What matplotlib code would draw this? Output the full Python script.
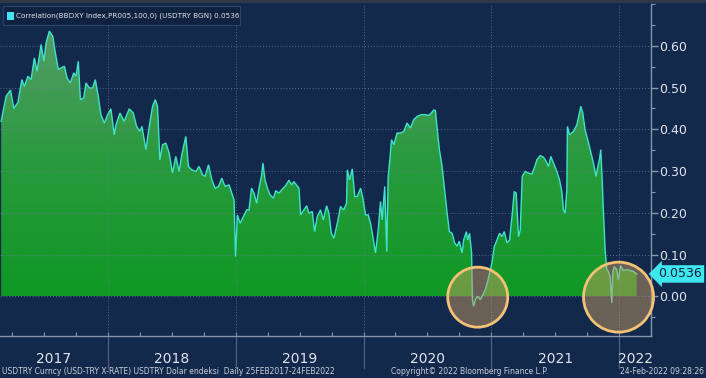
import numpy as np
import matplotlib
matplotlib.use("Agg")
import matplotlib.pyplot as plt
import matplotlib.transforms as mtransforms
from matplotlib import font_manager
from matplotlib.patches import Ellipse, Rectangle
from matplotlib.colors import LinearSegmentedColormap
from matplotlib.ticker import MultipleLocator, FixedLocator

# ---------------- data (decimal years, correlation) ----------------
t = [2017.164, 2017.203, 2017.237, 2017.263, 2017.295, 2017.326, 2017.346, 2017.373, 2017.398, 2017.424,
     2017.445, 2017.477, 2017.498, 2017.516, 2017.541, 2017.568, 2017.586, 2017.612, 2017.633, 2017.659,
     2017.680, 2017.705, 2017.732, 2017.750, 2017.768, 2017.784, 2017.810, 2017.828, 2017.854, 2017.880,
     2017.901, 2017.924, 2017.945, 2017.971, 2017.998, 2018.023, 2018.049,
     2018.063, 2018.094, 2018.127, 2018.166, 2018.198, 2018.224, 2018.250, 2018.266, 2018.297, 2018.323,
     2018.349, 2018.370, 2018.388, 2018.406, 2018.427, 2018.453, 2018.479, 2018.505, 2018.531, 2018.557,
     2018.578, 2018.609, 2018.630, 2018.656, 2018.688, 2018.713, 2018.740, 2018.760, 2018.787, 2018.813,
     2018.838, 2018.865, 2018.891, 2018.916, 2018.948, 2018.969, 2018.987,
     2018.998, 2019.013, 2019.034, 2019.060, 2019.086, 2019.104, 2019.123, 2019.143, 2019.164, 2019.182,
     2019.201, 2019.213, 2019.229, 2019.248, 2019.268, 2019.295, 2019.313, 2019.338, 2019.365, 2019.391,
     2019.416, 2019.438, 2019.455, 2019.474, 2019.495, 2019.508, 2019.534, 2019.555, 2019.573, 2019.599,
     2019.617, 2019.638, 2019.664, 2019.685, 2019.711, 2019.729, 2019.748, 2019.768, 2019.795, 2019.820,
     2019.846, 2019.867,
     2019.873, 2019.891, 2019.912, 2019.932, 2019.951, 2019.977, 2019.995, 2020.016, 2020.037, 2020.055,
     2020.073, 2020.094, 2020.115, 2020.133, 2020.146, 2020.166, 2020.182, 2020.193, 2020.205, 2020.219,
     2020.237, 2020.263, 2020.289, 2020.315, 2020.341, 2020.367, 2020.393, 2020.420, 2020.453, 2020.484,
     2020.510, 2020.531, 2020.549, 2020.563, 2020.576, 2020.594, 2020.615, 2020.635, 2020.654, 2020.672,
     2020.693, 2020.713, 2020.732, 2020.750,
     2020.771, 2020.784, 2020.805, 2020.815, 2020.830, 2020.846, 2020.852, 2020.862, 2020.875, 2020.893,
     2020.914, 2020.935, 2020.953, 2020.971, 2020.987, 2021.005, 2021.023, 2021.045, 2021.065, 2021.084,
     2021.102, 2021.123, 2021.143, 2021.162, 2021.180, 2021.195, 2021.213, 2021.227, 2021.242, 2021.266,
     2021.291, 2021.318, 2021.336, 2021.357, 2021.383, 2021.409, 2021.430, 2021.448, 2021.466, 2021.487,
     2021.513, 2021.534, 2021.552, 2021.565, 2021.578, 2021.591, 2021.596, 2021.612,
     2021.643, 2021.670, 2021.690, 2021.701, 2021.716, 2021.734, 2021.748, 2021.768, 2021.787, 2021.805,
     2021.820, 2021.834, 2021.846, 2021.857, 2021.867, 2021.877, 2021.891, 2021.904, 2021.916, 2021.930,
     2021.943, 2021.951, 2021.963, 2021.982, 2021.994, 2022.013, 2022.034, 2022.060, 2022.086, 2022.112,
     2022.138]

corr = [0.419, 0.479, 0.494, 0.450, 0.464, 0.519, 0.503, 0.527, 0.519, 0.571,
        0.539, 0.603, 0.563, 0.607, 0.635, 0.623, 0.587, 0.543, 0.547, 0.551,
        0.523, 0.511, 0.535, 0.527, 0.563, 0.471, 0.475, 0.511, 0.499, 0.499,
        0.519, 0.479, 0.435, 0.415, 0.435, 0.449, 0.387,
        0.411, 0.439, 0.419, 0.449, 0.439, 0.407, 0.395, 0.407, 0.351, 0.407,
        0.455, 0.471, 0.455, 0.327, 0.363, 0.367, 0.343, 0.295, 0.335, 0.299,
        0.339, 0.383, 0.311, 0.303, 0.299, 0.311, 0.291, 0.287, 0.315, 0.279,
        0.259, 0.263, 0.283, 0.263, 0.267, 0.247, 0.231,
        0.095, 0.195, 0.175, 0.191, 0.207, 0.207, 0.259, 0.247, 0.223, 0.259,
        0.287, 0.319, 0.279, 0.259, 0.243, 0.235, 0.253, 0.247, 0.257, 0.265,
        0.278, 0.267, 0.275, 0.267, 0.259, 0.195, 0.207, 0.217, 0.199, 0.203,
        0.155, 0.191, 0.207, 0.183, 0.217, 0.199, 0.151, 0.139, 0.175, 0.215,
        0.207, 0.223,
        0.303, 0.279, 0.305, 0.239, 0.239, 0.259, 0.235, 0.195, 0.195, 0.175,
        0.143, 0.104, 0.159, 0.227, 0.183, 0.263, 0.107, 0.287, 0.323, 0.375,
        0.363, 0.391, 0.391, 0.395, 0.415, 0.403, 0.423, 0.431, 0.435, 0.435,
        0.433, 0.439, 0.446, 0.445, 0.403, 0.351, 0.311, 0.255, 0.200, 0.155,
        0.151, 0.128, 0.120, 0.132,
        0.104, 0.135, 0.155, 0.135, 0.151, 0.104, -0.008, -0.024, -0.008, 0.000,
        -0.008, 0.004, 0.016, 0.035, 0.056, 0.080, 0.119, 0.135, 0.151, 0.143,
        0.155, 0.128, 0.135, 0.191, 0.251, 0.247, 0.143, 0.159, 0.287, 0.299,
        0.295, 0.293, 0.307, 0.327, 0.337, 0.333, 0.323, 0.311, 0.335, 0.319,
        0.299, 0.279, 0.251, 0.207, 0.199, 0.255, 0.407, 0.387,
        0.395, 0.411, 0.439, 0.455, 0.439, 0.399, 0.383, 0.359, 0.335, 0.311,
        0.287, 0.311, 0.327, 0.351, 0.287, 0.207, 0.111, 0.064, 0.060, 0.047,
        -0.016, 0.059, 0.071, 0.064, 0.040, 0.073, 0.062, 0.064, 0.062, 0.060,
        0.0536]

years = [2017, 2018, 2019, 2020, 2021, 2022]
yticks = [0.00, 0.10, 0.20, 0.30, 0.40, 0.50, 0.60]
legend_label = "Correlation(BBDXY Index,PR005,100,0) (USDTRY BGN) 0.0536"
last_value_label = "0.0536"
highlight_centers = [2020.894, 2021.996]
footer_left = "USDTRY Curncy (USD-TRY X-RATE) USDTRY Dolar endeksi  Daily 25FEB2017-24FEB2022"
footer_mid = "Copyright\u00a9 2022 Bloomberg Finance L.P."
footer_right = "24-Feb-2022 09:28:26"

# ---------------- fonts ----------------
def _has_font(name):
    try:
        font_manager.findfont(font_manager.FontProperties(family=name), fallback_to_default=False)
        return True
    except Exception:
        return False

if _has_font("Liberation Sans Narrow"):
    SMALL_FAMILY, legend_size, footer_size = "Liberation Sans Narrow", 6.8, 6.3
else:
    SMALL_FAMILY, legend_size, footer_size = "DejaVu Sans", 5.2, 5.5

# ---------------- styling ----------------
BG = "#13294b"
GRID = "#687c98"
TXT = "#dfe5ee"
LINE = "#3fe3cc"
CYAN = "#3ee6ef"

W, H = 706, 378
fig = plt.figure(figsize=(W / 100, H / 100), dpi=100, facecolor=BG)
ax_left, ax_right, ax_top, ax_bot = 0, 651, 4, 336
ax = fig.add_axes([ax_left / W, 1 - ax_bot / H, (ax_right - ax_left) / W, (ax_bot - ax_top) / H],
                  facecolor=BG)

x0, x1 = 2017.155, 2022.25
y0, y1 = -0.095, 0.70

t_arr = np.array(t)
c_arr = np.array(corr)

# gradient area fill (positive part)
fill = ax.fill_between(t_arr, np.maximum(c_arr, 0), 0, color="none", lw=0)
cmap = LinearSegmentedColormap.from_list("g", ["#0f9824", "#2a9a3e", "#589e6c"])
grad = np.linspace(0, 1, 256).reshape(-1, 1)
im = ax.imshow(grad, extent=[x0, x1, 0, 0.66], origin="lower", aspect="auto",
               cmap=cmap, zorder=1, interpolation="bilinear")
im.set_clip_path(fill.get_paths()[0], transform=ax.transData)

ax.plot(t_arr, c_arr, color=LINE, lw=1.0, zorder=3, solid_joinstyle="miter")

ax.set_xlim(x0, x1)
ax.set_ylim(y0, y1)

# grid
for yv in yticks:
    ax.axhline(yv, color=GRID, lw=0.7, ls=(0, (1, 2)), zorder=2.5, alpha=0.8)
for yr in years[1:]:
    ax.axvline(yr, color=GRID, lw=0.7, ls=(0, (1, 2)), zorder=2.5, alpha=0.8)

# spines
for s in ["left", "top"]:
    ax.spines[s].set_visible(False)
ax.spines["right"].set_color("#8796ad")
ax.spines["bottom"].set_color("#8796ad")
ax.spines["right"].set_linewidth(1.0)
ax.spines["bottom"].set_linewidth(1.0)

# y ticks on right
ax.yaxis.tick_right()
ax.set_yticks(yticks)
ax.set_yticklabels([f"{v:.2f}" for v in yticks])
ax.yaxis.set_minor_locator(MultipleLocator(0.05))
ax.tick_params(axis="y", which="major", colors="#8796ad", labelcolor=TXT, labelsize=9,
               length=5, width=1, pad=1)
ax.tick_params(axis="y", which="minor", colors="#8796ad", length=3, width=0.8)

# x ticks: quarterly small ticks inward, no labels
ax.set_xticks([])
ax.xaxis.set_minor_locator(FixedLocator(np.arange(2017.25, 2022.3, 0.25)))
ax.tick_params(axis="x", which="minor", direction="in", length=3, colors="#8796ad", width=0.8)

# year labels and separators below axes
trans = mtransforms.blended_transform_factory(ax.transData, ax.transAxes)
bounds = [x0] + years[1:] + [x1]
for i, yr in enumerate(years):
    cx = (bounds[i] + bounds[i + 1]) / 2
    ax.text(cx, -0.068, str(yr), transform=trans, ha="center", va="center",
            fontsize=10, color=TXT, clip_on=False)
for yr in years[1:]:
    ax.plot([yr, yr], [0, -0.095], transform=trans, color="#4d6080", lw=0.9, clip_on=False)

# highlight circles
px_per_year = (ax_right - ax_left) / (x1 - x0)
px_per_unit = (ax_bot - ax_top) / (y1 - y0)
for cx, r in zip(highlight_centers, [30, 35]):
    e = Ellipse((cx, -0.002), 2 * r / px_per_year, 2 * r / px_per_unit,
                facecolor=(0.80, 0.62, 0.38, 0.48), edgecolor="#f3c275", lw=2.0,
                zorder=5, clip_on=False)
    ax.add_patch(e)

# last value tag
trans_r = mtransforms.blended_transform_factory(ax.transAxes, ax.transData)
ax.text(1.011, corr[-1], last_value_label, transform=trans_r, ha="left", va="center",
        fontsize=9, color="#0b1f3a", clip_on=False, zorder=6,
        bbox=dict(boxstyle="larrow,pad=0.18", fc=CYAN, ec="none"))

# legend box
fig.patches.append(Rectangle((3 / W, 1 - 25 / H), 237 / W, 19 / H, transform=fig.transFigure,
                             facecolor="#0f2240", edgecolor="#2c4468", lw=0.8, zorder=10))
fig.patches.append(Rectangle((7 / W, 1 - 19.5 / H), 7 / W, 8 / H, transform=fig.transFigure,
                             facecolor=CYAN, edgecolor="none", zorder=11))
fig.text(16 / W, 1 - 15.5 / H, legend_label, fontsize=legend_size, family=SMALL_FAMILY,
         color=TXT, ha="left", va="center", zorder=12)

# top strip
fig.patches.append(Rectangle((0, 1 - 3 / H), 1, 3 / H, transform=fig.transFigure,
                             facecolor="#30394a", edgecolor="none", zorder=9))

# footer
fy = 1 - 372 / H
fig.text(2 / W, fy, footer_left, fontsize=footer_size, family=SMALL_FAMILY, color="#c8d0dc",
         ha="left", va="center")
fig.text(470 / W, fy, footer_mid, fontsize=footer_size, family=SMALL_FAMILY, color="#c8d0dc",
         ha="center", va="center")
fig.text(704 / W, fy, footer_right, fontsize=footer_size, family=SMALL_FAMILY, color="#c8d0dc",
         ha="right", va="center")

fig.savefig("out.png", dpi=100, facecolor=BG)
